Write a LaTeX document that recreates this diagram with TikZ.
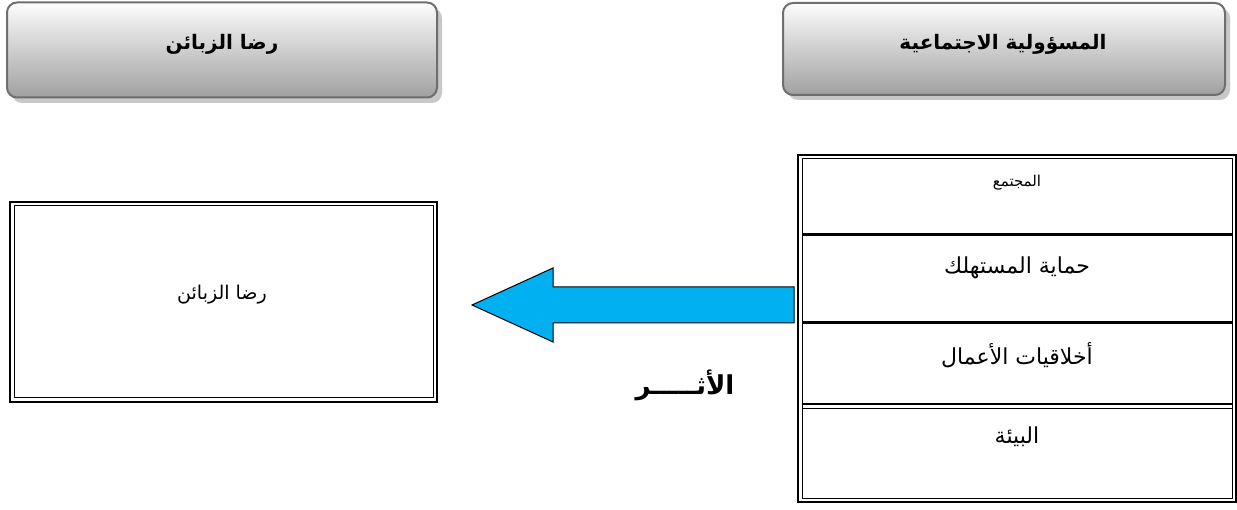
\documentclass[tikz,border=0pt]{standalone}
\usepackage{fontspec}
\usepackage{tikz}
\TeXXeTstate=1
\newfontfamily\arabicfont[Script=Arabic]{DejaVu Sans}

\begin{document}
\begin{tikzpicture}[x=1pt,y=1pt,yscale=-1,xscale=1,
  headbox/.style={draw={rgb, 255:red, 110; green, 110; blue, 110}, line width=2pt, rounded corners=10pt, top color={rgb, 255:red, 252; green, 252; blue, 252}, bottom color={rgb, 255:red, 160; green, 160; blue, 160}, inner sep=0pt},
  headshadow/.style={fill={rgb, 255:red, 200; green, 200; blue, 200}, rounded corners=10pt},
  celltext/.style={inner sep=0.75pt, font=\arabicfont}]
\useasboundingbox (0,0) rectangle (1237,510);

%Shape: Rounded Rect shadows
\fill [headshadow] (12,8) rectangle (442,103);
\fill [headshadow] (788,8) rectangle (1230,100);
%Shape: Rounded Rect [id:customers_head]
\node [headbox, minimum width=430pt, minimum height=95pt] (custhead) at (222,50) {};
%Shape: Rounded Rect [id:social_head]
\node [headbox, minimum width=442pt, minimum height=92pt] (sochead) at (1004,49) {};

%Shape: Rectangle [id:customers_box]
\draw [line width=2pt] (10,202) rectangle (437,402) ;
\draw [line width=1pt] (14,206) rectangle (433,398) ;

%Shape: Rectangle [id:table_box]
\draw [line width=2pt] (798,155) rectangle (1236,502) ;
\draw [line width=1pt] (802,159) rectangle (1232,498) ;
%Straight Lines [id:row_lines]
\draw [line width=3pt] (802,235) -- (1232,235) ;
\draw [line width=3pt] (802,323) -- (1232,323) ;
\draw [line width=2pt] (802,404.5) -- (1232,404.5) ;
\draw [line width=1pt] (802,409) -- (1232,409) ;

%Shape: Left Arrow [id:effect_arrow]
\draw [line width=1pt, fill={rgb, 255:red, 0; green, 176; blue, 240}] (472,305) -- (553,268) -- (553,287) -- (794,287) -- (794,323) -- (553,323) -- (553,342) -- cycle ;

% Text Node
\node [celltext, font=\arabicfont\bfseries\fontsize{20}{24}\selectfont] (custtitle) at (222,44) {\beginR رضا الزبائن\endR};
% Text Node
\node [celltext, font=\arabicfont\bfseries\fontsize{20}{24}\selectfont] (soctitle) at (1003,44) {\beginR المسؤولية الاجتماعية\endR};
% Text Node
\node [celltext, font=\arabicfont\fontsize{19}{23}\selectfont] (customers) at (222,295) {\beginR رضا الزبائن\endR};
% Text Node
\node [celltext, font=\arabicfont\fontsize{15}{18}\selectfont] (society) at (1017,183) {\beginR المجتمع\endR};
% Text Node
\node [celltext, font=\arabicfont\fontsize{22}{26}\selectfont] (consumer) at (1017,268) {\beginR حماية المستهلك\endR};
% Text Node
\node [celltext, font=\arabicfont\fontsize{22}{26}\selectfont] (ethics) at (1017,355) {\beginR أخلاقيات الأعمال\endR};
% Text Node
\node [celltext, font=\arabicfont\fontsize{22}{26}\selectfont] (environment) at (1017,437) {\beginR البيئة\endR};
% Text Node
\node [celltext, font=\arabicfont\bfseries\fontsize{26}{30}\selectfont] (effect) at (685,385) {\beginR الأثـــــر\endR};

\end{tikzpicture}
\end{document}
